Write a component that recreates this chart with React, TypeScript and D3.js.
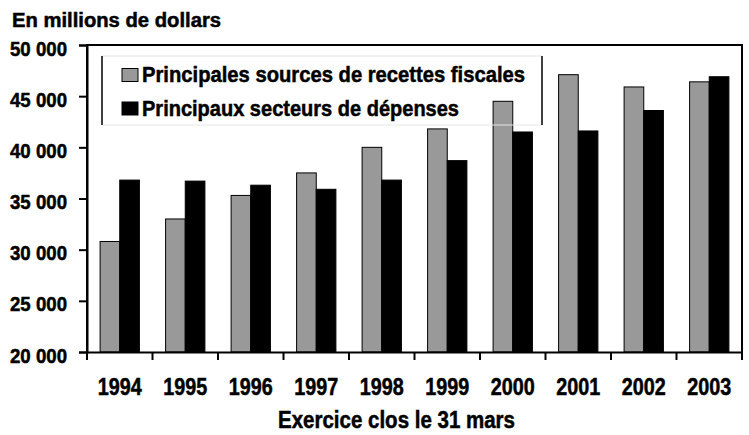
import React, { useEffect, useRef } from 'react';
import * as d3 from 'd3';

const years = ['1994', '1995', '1996', '1997', '1998', '1999', '2000', '2001', '2002', '2003'];
const recettes = [30800, 33000, 35300, 37500, 40000, 41800, 44500, 47100, 45900, 46400];
const depenses = [36800, 36700, 36300, 35900, 36800, 38700, 41500, 41600, 43600, 46900];
const seriesNames = ['Principales sources de recettes fiscales', 'Principaux secteurs de dépenses'];
const seriesColors = ['#999999', '#000000'];
const yTicks = [20000, 25000, 30000, 35000, 40000, 45000, 50000];

const FONT = "'Liberation Sans', Arial, sans-serif";

export default function App() {
  const ref = useRef<SVGSVGElement>(null);

  useEffect(() => {
    const svg = d3.select(ref.current);
    svg.selectAll('*').remove();

    const left = 87, right = 742, top = 45, bottom = 352;

    const x = d3.scaleBand().domain(years).range([left, right]);
    const bw = x.bandwidth();
    const inner = d3.scaleBand().domain(['r', 'd']).range([bw * 0.2, bw * 0.8]);
    const y = d3.scaleLinear().domain([20000, 50000]).range([bottom, top]);

    const fmt = (v: number) => d3.format(',')(v).replace(',', ' ');

    const g = svg.append('g').attr('font-family', FONT).attr('font-weight', 'bold');

    // bars
    const groups = g.selectAll('g.year')
      .data(years)
      .join('g')
      .attr('transform', d => `translate(${x(d)},0)`);

    groups.append('rect')
      .attr('x', inner('r')!)
      .attr('width', inner.bandwidth())
      .attr('y', (d, i) => y(recettes[i]))
      .attr('height', (d, i) => bottom - y(recettes[i]))
      .attr('fill', seriesColors[0])
      .attr('stroke', '#000')
      .attr('stroke-width', 1);

    groups.append('rect')
      .attr('x', inner('d')!)
      .attr('width', inner.bandwidth())
      .attr('y', (d, i) => y(depenses[i]))
      .attr('height', (d, i) => bottom - y(depenses[i]))
      .attr('fill', seriesColors[1])
      .attr('stroke', '#000')
      .attr('stroke-width', 1);

    // frame
    g.append('path')
      .attr('d', `M${left},${bottom}V${top}H${right}V${bottom}`)
      .attr('fill', 'none')
      .attr('stroke', '#000')
      .attr('stroke-width', 2);

    // y axis
    const yAxis = g.append('g')
      .attr('transform', `translate(${left},0)`)
      .call(d3.axisLeft(y).tickValues(yTicks).tickSize(8).tickPadding(12).tickFormat(d => fmt(+d)));
    yAxis.select('.domain').attr('stroke-width', 2);
    yAxis.selectAll('.tick line').attr('stroke-width', 2);
    yAxis.selectAll('text')
      .attr('font-family', FONT)
      .attr('font-size', 21)
      .attr('font-weight', 'bold')
      .attr('fill', '#000')
      .attr('stroke', '#000')
      .attr('stroke-width', 0.5)
      .attr('dy', 10)
      .attr('textLength', 57)
      .attr('lengthAdjust', 'spacingAndGlyphs');

    // x axis
    const xAxis = g.append('g')
      .attr('transform', `translate(0,${bottom})`)
      .call(d3.axisBottom(x).tickSize(0).tickPadding(0));
    xAxis.select('.domain').attr('stroke-width', 2);
    xAxis.selectAll('text')
      .attr('font-family', FONT)
      .attr('font-size', 23)
      .attr('font-weight', 'bold')
      .attr('fill', '#000')
      .attr('stroke', '#000')
      .attr('stroke-width', 0.5)
      .attr('dy', null)
      .attr('y', 43)
      .attr('textLength', 44)
      .attr('lengthAdjust', 'spacingAndGlyphs');

    // category boundary ticks
    const bounds = years.map(d => x(d)!).concat([right]);
    g.selectAll('line.xt')
      .data(bounds)
      .join('line')
      .attr('x1', d => d).attr('x2', d => d)
      .attr('y1', bottom).attr('y2', bottom + 8)
      .attr('stroke', '#000')
      .attr('stroke-width', 2);

    // titles
    g.append('text')
      .attr('x', 12).attr('y', 27)
      .attr('font-size', 20)
      .attr('stroke', '#000')
      .attr('stroke-width', 0.5)
      .attr('textLength', 209)
      .attr('lengthAdjust', 'spacingAndGlyphs')
      .text('En millions de dollars');

    g.append('text')
      .attr('x', 396.5).attr('y', 428)
      .attr('text-anchor', 'middle')
      .attr('font-size', 23)
      .attr('stroke', '#000')
      .attr('stroke-width', 0.5)
      .attr('textLength', 237)
      .attr('lengthAdjust', 'spacingAndGlyphs')
      .text('Exercice clos le 31 mars');

    // legend
    const lg = g.append('g');
    lg.append('line').attr('x1', 102).attr('x2', 542).attr('y1', 56).attr('y2', 56).attr('stroke', '#e6e6e6');
    lg.append('line').attr('x1', 102).attr('x2', 542).attr('y1', 125).attr('y2', 125).attr('stroke', '#e6e6e6');
    lg.append('line').attr('x1', 102).attr('x2', 102).attr('y1', 56).attr('y2', 125).attr('stroke', '#000').attr('stroke-width', 1.5);
    lg.append('line').attr('x1', 542).attr('x2', 542).attr('y1', 56).attr('y2', 125).attr('stroke', '#000').attr('stroke-width', 1.5);

    const legendWidths = [383, 317];
    const items = lg.selectAll('g.item')
      .data(seriesNames)
      .join('g')
      .attr('transform', (d, i) => `translate(122,${68.5 + i * 33.5})`);
    items.append('rect')
      .attr('width', 16).attr('height', 13)
      .attr('fill', (d, i) => seriesColors[i])
      .attr('stroke', '#000')
      .attr('stroke-width', 1);
    items.append('text')
      .attr('x', 20).attr('y', 13.5)
      .attr('font-size', 22)
      .attr('stroke', '#000')
      .attr('stroke-width', 0.5)
      .attr('textLength', (d, i) => legendWidths[i])
      .attr('lengthAdjust', 'spacingAndGlyphs')
      .text(d => d);
  }, []);

  return (
    <svg ref={ref} width={749} height={435} style={{ position: 'absolute', left: 0, top: 0, background: '#fff' }} />
  );
}
